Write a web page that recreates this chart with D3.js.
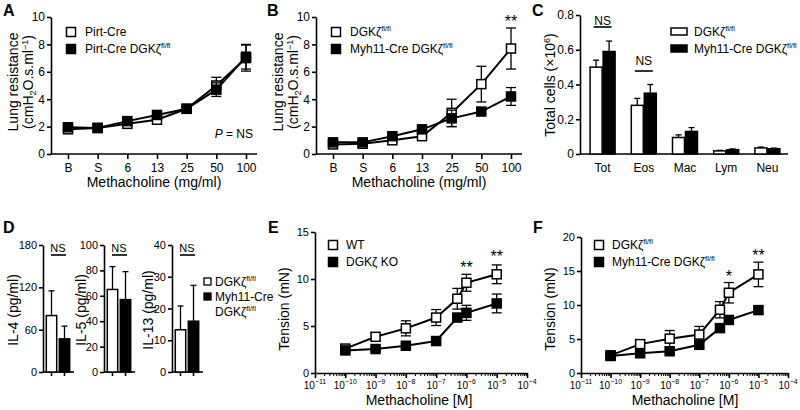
<!DOCTYPE html>
<html><head><meta charset="utf-8">
<script src="https://cdn.jsdelivr.net/npm/d3@7/dist/d3.min.js"></script>
<style>
body{margin:0;background:#fff}
svg{font-family:"Liberation Sans",Arial,sans-serif}
</style></head>
<body><svg id="c" width="800" height="410"></svg>
<script>
// ---------------- DATA ----------------
const doseCats = ["B","S","6","13","25","50","100"];
const aPirt = [1.8, 1.9, 2.2, 2.5, 3.3, 5.0, 7.0];
const aPirtErr = [0.15, 0.15, 0.15, 0.15, 0.2, 0.6, 0.95];
const aPirtKO = [1.95, 1.9, 2.4, 2.85, 3.3, 4.7, 7.1];
const aPirtKOErr = [0.15, 0.15, 0.2, 0.2, 0.2, 0.5, 0.9];

const bWT = [0.7, 0.75, 1.0, 1.3, 3.0, 5.1, 7.7];
const bWTErr = [0.1, 0.1, 0.15, 0.15, 1.0, 1.3, 1.5];
const bKO = [0.85, 0.85, 1.3, 1.8, 2.6, 3.1, 4.2];
const bKOErr = [0.1, 0.1, 0.15, 0.15, 0.6, 0.2, 0.65];

const cellCats = ["Tot","Eos","Mac","Lym","Neu"];
const cWT = [0.50, 0.28, 0.095, 0.018, 0.035];
const cWTErr = [0.04, 0.04, 0.015, 0.003, 0.005];
const cKO = [0.59, 0.35, 0.13, 0.025, 0.03];
const cKOErr = [0.06, 0.05, 0.022, 0.004, 0.004];

const il4 = [80, 47], il4Err = [35, 18];
const il5 = [65, 57], il5Err = [18, 22];
const il13 = [13.3, 16], il13Err = [7.5, 11.3];

const conc = [1e-10, 1e-9, 1e-8, 1e-7, 5e-7, 1e-6, 1e-5];
const eWT = [2.6, 3.85, 4.75, 5.9, 7.9, 9.6, 10.5];
const eWTErr = [0.3, 0.4, 0.8, 0.85, 1.1, 0.9, 1.0];
const eKO = [2.4, 2.55, 2.9, 3.4, 5.9, 6.4, 7.4];
const eKOErr = [0.2, 0.2, 0.25, 0.3, 0.4, 0.8, 1.0];

const fWT = [2.6, 4.25, 5.05, 5.65, 9.3, 11.8, 14.5];
const fWTErr = [0.3, 0.5, 1.2, 1.2, 1.2, 1.5, 1.8];
const fKO = [2.5, 2.9, 3.2, 4.15, 6.6, 7.8, 9.25];
const fKOErr = [0.2, 0.3, 0.4, 0.4, 0.4, 0.4, 0.5];

const logDecades = [-11,-10,-9,-8,-7,-6,-5,-4];

// ---------------- DRAW ----------------
const svg = d3.select("#c");
svg.append("rect").attr("width",800).attr("height",410).attr("fill","#fff");
const FS = 12;

function styleAxis(g){
  g.selectAll("path,line").attr("stroke","#000").attr("stroke-width",1.6);
  g.selectAll("text").attr("font-size",FS).attr("fill","#000").attr("font-family","Liberation Sans, Arial, sans-serif");
}
function hLine(x1,x2,y){ svg.append("line").attr("x1",x1).attr("x2",x2).attr("y1",y).attr("y2",y).attr("stroke","#000").attr("stroke-width",1.6); }
function letter(t,x,y){ svg.append("text").attr("x",x).attr("y",y).attr("font-size",16).attr("font-weight","bold").text(t); }
function supText(sel, base, sup, fs){
  sel.append("tspan").text(base);
  sel.append("tspan").text(sup).attr("font-size",fs*0.62).attr("dy",-fs*0.4);
}
function rotTitle(x,y,build,fs=14){
  const t = svg.append("text").attr("transform",`translate(${x},${y}) rotate(-90)`).attr("text-anchor","middle").attr("font-size",fs);
  build(t); return t;
}
function series(x, y, xs, vals, errs, fill, sz=9){
  const g = svg.append("g");
  const line = d3.line().x((d,i)=>x(xs[i])).y(d=>y(d));
  g.append("path").attr("d",line(vals)).attr("fill","none").attr("stroke","#000").attr("stroke-width",2);
  vals.forEach((v,i)=>{
    const cx = x(xs[i]);
    g.append("line").attr("x1",cx).attr("x2",cx).attr("y1",y(v+errs[i])).attr("y2",y(v-errs[i])).attr("stroke","#000").attr("stroke-width",1.3);
    [v+errs[i], v-errs[i]].forEach(e=>g.append("line").attr("x1",cx-5).attr("x2",cx+5).attr("y1",y(e)).attr("y2",y(e)).attr("stroke","#000").attr("stroke-width",1.3));
  });
  g.selectAll("rect.m").data(vals).enter().append("rect")
    .attr("x",(d,i)=>x(xs[i])-sz/2).attr("y",d=>y(d)-sz/2).attr("width",sz).attr("height",sz)
    .attr("fill",fill).attr("stroke","#000").attr("stroke-width",1.5);
}
function legendSq(x,y,fill,build,tx, sz=9){
  svg.append("rect").attr("x",x-sz/2).attr("y",y-sz/2).attr("width",sz).attr("height",sz).attr("fill",fill).attr("stroke","#000").attr("stroke-width",1.5);
  const t = svg.append("text").attr("x",tx).attr("y",y+4).attr("font-size",FS);
  build(t);
}

// ---- Panel A & B (categorical dose) ----
function dosePanel(ox, wtVals, wtErr, koVals, koErr, leg1, leg2){
  const x = d3.scalePoint().domain(doseCats).range([ox+17, ox+195]);
  const y = d3.scaleLinear().domain([0,10]).range([154,17]);
  const gy = svg.append("g").attr("transform",`translate(${ox},0)`).call(d3.axisLeft(y).tickValues([0,2,4,6,8,10]).tickSize(4).tickSizeOuter(0).tickPadding(2));
  styleAxis(gy);
  const gx = svg.append("g").attr("transform",`translate(0,154)`).call(d3.axisBottom(x).tickSize(5).tickSizeOuter(0).tickPadding(4));
  gx.select(".domain").remove();
  styleAxis(gx);
  hLine(ox, ox+206, 154);
  series(x,y,doseCats,wtVals,wtErr,"#fff");
  series(x,y,doseCats,koVals,koErr,"#000");
  svg.append("text").attr("x",ox+103).attr("y",187).attr("text-anchor","middle").attr("font-size",14).text("Methacholine (mg/ml)");
  rotTitle(ox-33, 82, t=>t.text("Lung resistance"));
  rotTitle(ox-18, 82, t=>{
    t.append("tspan").text("(cmH");
    t.append("tspan").text("2").attr("font-size",9).attr("dy",3);
    t.append("tspan").text("O.s.ml").attr("dy",-3);
    t.append("tspan").text("−1").attr("font-size",9).attr("dy",-5);
    t.append("tspan").text(")").attr("dy",5);
  });
  legendSq(ox+20,32,"#fff",leg1,ox+34);
  legendSq(ox+20,49,"#000",leg2,ox+34);
  return {x,y};
}
letter("A",3,16);
const pA = dosePanel(51, aPirt, aPirtErr, aPirtKO, aPirtKOErr,
  t=>t.text("Pirt-Cre"), t=>supText(t,"Pirt-Cre DGKζ","fl/fl",FS));
svg.append("text").attr("x",253).attr("y",138).attr("text-anchor","end").attr("font-size",FS)
  .call(t=>{t.append("tspan").attr("font-style","italic").text("P"); t.append("tspan").text(" = NS");});

letter("B",267,16);
const pB = dosePanel(316, bWT, bWTErr, bKO, bKOErr,
  t=>supText(t,"DGKζ","fl/fl",FS), t=>supText(t,"Myh11-Cre DGKζ","fl/fl",FS));
svg.append("text").attr("x",pB.x("100")).attr("y",27).attr("text-anchor","middle").attr("font-size",16).text("**");

// ---- Panel C ----
letter("C",532,16);
{
  const x = d3.scaleBand().domain(cellCats).range([582,788]);
  const y = d3.scaleLinear().domain([0,0.8]).range([154,15]);
  const gy = svg.append("g").attr("transform","translate(580,0)").call(d3.axisLeft(y).tickValues([0,0.2,0.4,0.6,0.8]).tickFormat(d=>d===0?"0":d3.format(".1f")(d)).tickSize(4).tickSizeOuter(0).tickPadding(2));
  styleAxis(gy);
  const gx = svg.append("g").attr("transform","translate(0,154)").call(d3.axisBottom(x).tickSize(0).tickPadding(9));
  gx.select(".domain").remove();
  styleAxis(gx);
  hLine(580,788,154);
  const bw = 12;
  const drawBars=(vals,errs,fill,off)=>{
    vals.forEach((v,i)=>{
      const cx = x(cellCats[i]) + x.bandwidth()/2 + off;
      svg.append("line").attr("x1",cx+bw/2).attr("x2",cx+bw/2).attr("y1",y(v)).attr("y2",y(v+errs[i])).attr("stroke","#000").attr("stroke-width",1.3);
      svg.append("line").attr("x1",cx+bw/2-3).attr("x2",cx+bw/2+3).attr("y1",y(v+errs[i])).attr("y2",y(v+errs[i])).attr("stroke","#000").attr("stroke-width",1.3);
      svg.append("rect").attr("x",cx).attr("y",y(v)).attr("width",bw).attr("height",y(0)-y(v)).attr("fill",fill).attr("stroke","#000").attr("stroke-width",1.5);
    });
  };
  drawBars(cWT,cWTErr,"#fff",-bw-0.5);
  drawBars(cKO,cKOErr,"#000",0.5);
  [[0,27,25],[1,71,65]].forEach(([i,ly,ty])=>{
    const cx = x(cellCats[i]) + x.bandwidth()/2;
    hLine(cx-9,cx+9,ly);
    svg.append("text").attr("x",cx).attr("y",ty).attr("text-anchor","middle").attr("font-size",FS).text("NS");
  });
  rotTitle(555, 85, t=>{ t.append("tspan").text("Total cells (×10"); t.append("tspan").text("6").attr("font-size",9).attr("dy",-5); t.append("tspan").text(")").attr("dy",5);}, 14);
  svg.append("rect").attr("x",671).attr("y",28).attr("width",16).attr("height",7).attr("fill","#fff").attr("stroke","#000").attr("stroke-width",1.5);
  svg.append("rect").attr("x",671).attr("y",45).attr("width",16).attr("height",7).attr("fill","#000").attr("stroke","#000").attr("stroke-width",1.5);
  svg.append("text").attr("x",694).attr("y",36).attr("font-size",FS).call(t=>supText(t,"DGKζ","fl/fl",FS));
  svg.append("text").attr("x",694).attr("y",53).attr("font-size",FS).call(t=>supText(t,"Myh11-Cre DGKζ","fl/fl",FS));
}

// ---- Panel D ----
letter("D",3,233);
function cytoPanel(ox, vals, errs, max, ticks, title, tx){
  const y = d3.scaleLinear().domain([0,max]).range([372,245]);
  const x = d3.scaleBand().domain(["wt","ko"]).range([ox+2, ox+28]).paddingInner(0.2).paddingOuter(0.1);
  const gy = svg.append("g").attr("transform",`translate(${ox},0)`).call(d3.axisLeft(y).tickValues(ticks).tickSize(4).tickSizeOuter(0).tickPadding(2));
  styleAxis(gy);
  gy.selectAll("text").attr("font-size",11);
  const gx = svg.append("g").attr("transform","translate(0,372)").call(d3.axisBottom(x).tickSize(4).tickSizeOuter(0).tickFormat(""));
  gx.select(".domain").remove();
  styleAxis(gx);
  hLine(ox, ox+31, 372);
  ["wt","ko"].forEach((k,i)=>{
    const v = vals[i], bx = x(k), bw = x.bandwidth(), cx = bx+bw/2;
    svg.append("line").attr("x1",cx).attr("x2",cx).attr("y1",y(v)).attr("y2",y(v+errs[i])).attr("stroke","#000").attr("stroke-width",1.3);
    svg.append("line").attr("x1",cx-3).attr("x2",cx+3).attr("y1",y(v+errs[i])).attr("y2",y(v+errs[i])).attr("stroke","#000").attr("stroke-width",1.3);
    svg.append("rect").attr("x",bx).attr("y",y(v)).attr("width",bw).attr("height",y(0)-y(v)).attr("fill",i?"#000":"#fff").attr("stroke","#000").attr("stroke-width",1.5);
  });
  const cx = ox+15;
  hLine(cx-7,cx+8,255);
  svg.append("text").attr("x",cx).attr("y",252).attr("text-anchor","middle").attr("font-size",11).text("NS");
  rotTitle(tx, 310, t=>t.text(title), 14);
}
cytoPanel(43, il4, il4Err, 180, [0,60,120,180], "IL-4 (pg/ml)", 18);
cytoPanel(104, il5, il5Err, 100, [0,20,40,60,80,100], "IL-5 (pg/ml)", 86);
cytoPanel(172, il13, il13Err, 40, [0,10,20,30,40], "IL-13 (pg/ml)", 153);
svg.append("rect").attr("x",204).attr("y",278).attr("width",7).attr("height",7).attr("fill","#fff").attr("stroke","#000").attr("stroke-width",1.3);
svg.append("rect").attr("x",204).attr("y",293).attr("width",7).attr("height",7).attr("fill","#000").attr("stroke","#000").attr("stroke-width",1.3);
svg.append("text").attr("x",215).attr("y",286).attr("font-size",FS).call(t=>supText(t,"DGKζ","fl/fl",FS));
svg.append("text").attr("x",215).attr("y",301).attr("font-size",FS).text("Myh11-Cre");
svg.append("text").attr("x",215).attr("y",316).attr("font-size",FS).call(t=>supText(t,"DGKζ","fl/fl",FS));

// ---- Panels E & F (log conc) ----
function logPanel(ox, xEnd, ymax, yTop, ticks, wt, wtErr, ko, koErr, leg1, leg2){
  const x = d3.scaleLog().domain([1e-11,1e-4]).range([ox, xEnd]);
  const y = d3.scaleLinear().domain([0,ymax]).range([373,yTop]);
  const gy = svg.append("g").attr("transform",`translate(${ox},0)`).call(d3.axisLeft(y).tickValues(ticks).tickSize(4).tickSizeOuter(0).tickPadding(2));
  styleAxis(gy);
  gy.selectAll("text").attr("font-size",11);
  const majors = logDecades.map(k=>Math.pow(10,k));
  const minors = [];
  logDecades.slice(0,-1).forEach(k=>{ for(let m=2;m<=9;m++) minors.push(m*Math.pow(10,k)); });
  const gmin = svg.append("g").attr("transform","translate(0,373)").call(d3.axisBottom(x).tickValues(minors).tickSize(3).tickFormat(""));
  gmin.select(".domain").remove(); styleAxis(gmin);
  gmin.selectAll("line").attr("stroke-width",1);
  const gmaj = svg.append("g").attr("transform","translate(0,373)").call(d3.axisBottom(x).tickValues(majors).tickSize(5).tickSizeOuter(0).tickFormat(""));
  styleAxis(gmaj);
  logDecades.forEach(k=>{
    const t = svg.append("text").attr("x",x(Math.pow(10,k))).attr("y",389).attr("text-anchor","middle").attr("font-size",10);
    t.append("tspan").text("10");
    t.append("tspan").text("−"+(-k)).attr("font-size",7).attr("dy",-5);
  });
  series(x,y,conc,wt,wtErr,"#fff");
  series(x,y,conc,ko,koErr,"#000");
  svg.append("text").attr("x",ox+104).attr("y",405).attr("text-anchor","middle").attr("font-size",14).text("Methacholine [M]");
  rotTitle(ox-26, 309, t=>t.text("Tension (mN)"), 14);
  legendSq(ox+18,245,"#fff",leg1,ox+31);
  legendSq(ox+18,262,"#000",leg2,ox+31);
  return {x,y};
}
letter("E",268,233);
const pE = logPanel(315, 527, 15, 232, [0,5,10,15], eWT, eWTErr, eKO, eKOErr,
  t=>t.text("WT"), t=>t.text("DGKζ KO"));
svg.append("text").attr("x",pE.x(1e-6)).attr("y",273).attr("text-anchor","middle").attr("font-size",16).text("**");
svg.append("text").attr("x",pE.x(1e-5)).attr("y",262).attr("text-anchor","middle").attr("font-size",16).text("**");

letter("F",533,233);
const pF = logPanel(581, 788, 20, 237, [0,5,10,15,20], fWT, fWTErr, fKO, fKOErr,
  t=>supText(t,"DGKζ","fl/fl",FS), t=>supText(t,"Myh11-Cre DGKζ","fl/fl",FS));
svg.append("text").attr("x",pF.x(1e-6)).attr("y",282).attr("text-anchor","middle").attr("font-size",16).text("*");
svg.append("text").attr("x",pF.x(1e-5)).attr("y",261).attr("text-anchor","middle").attr("font-size",16).text("**");
</script></body></html>
